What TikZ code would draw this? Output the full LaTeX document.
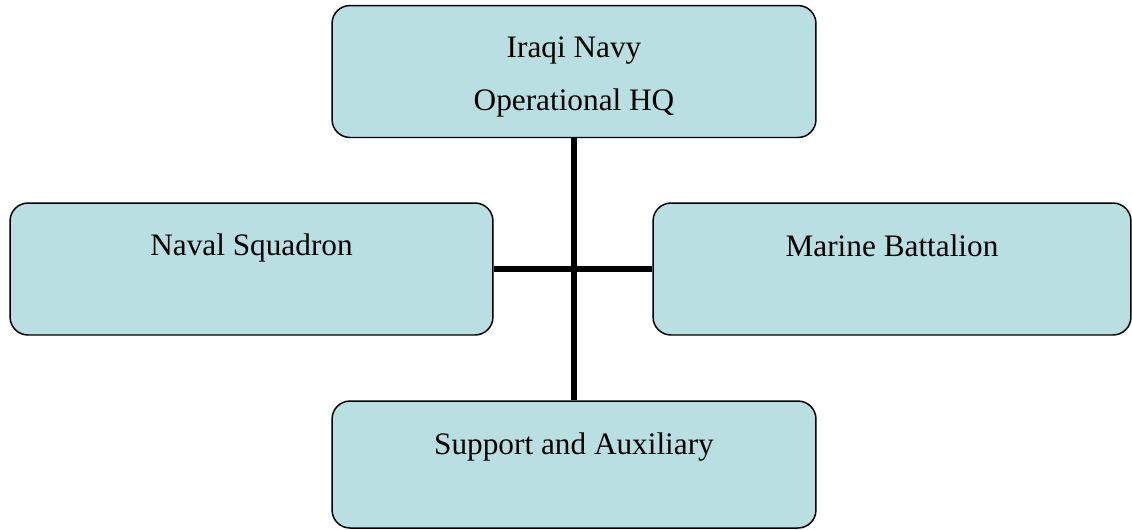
\documentclass[tikz,border=0pt]{standalone}
\usepackage{fontspec}
\setmainfont{Liberation Serif}
\usetikzlibrary{positioning}
\definecolor{boxfill}{RGB}{186,223,227}
\tikzset{
    orgchart/.style={x=0.02cm, y=-0.02cm, font=\fontsize{17.8}{30.2}\selectfont},
    unit/.style={draw, fill=boxfill, line width=0.85pt, rounded corners=0.36cm,
                 minimum width=9.68cm, minimum height=2.64cm, inner sep=0pt},
    caption/.style={anchor=base, align=center, inner sep=0pt},
    link/.style={line width=3.4pt},
}
\begin{document}
\begin{tikzpicture}[orgchart]
    \useasboundingbox (0,0) rectangle (1132,529);

    \node[unit, minimum height=2.64cm]              (hq)      at (574,71.5) {};
    \node[unit, minimum width=9.66cm]               (naval)   at (251.5,269) {};
    \node[unit, minimum width=9.56cm]               (marine)  at (892,269) {};
    \node[unit, minimum height=2.54cm]              (support) at (574,464.5) {};

    % base of a two-line caption is its last line
    \node[caption] (hqtext)      at ([yshift=-2.12cm]hq.north)      {Iraqi Navy\\Operational HQ};
    \node[caption] (navaltext)   at ([yshift=-1.07cm]naval.north)   {Naval Squadron};
    \node[caption] (marinetext)  at ([yshift=-1.09cm]marine.north)  {Marine Battalion};
    \node[caption] (supporttext) at ([yshift=-1.08cm]support.north) {Support and Auxiliary};

    % command line and the two wings
    \draw[link] (hq) -- (support);
    \draw[link] (naval) -- (marine);
\end{tikzpicture}
\end{document}
